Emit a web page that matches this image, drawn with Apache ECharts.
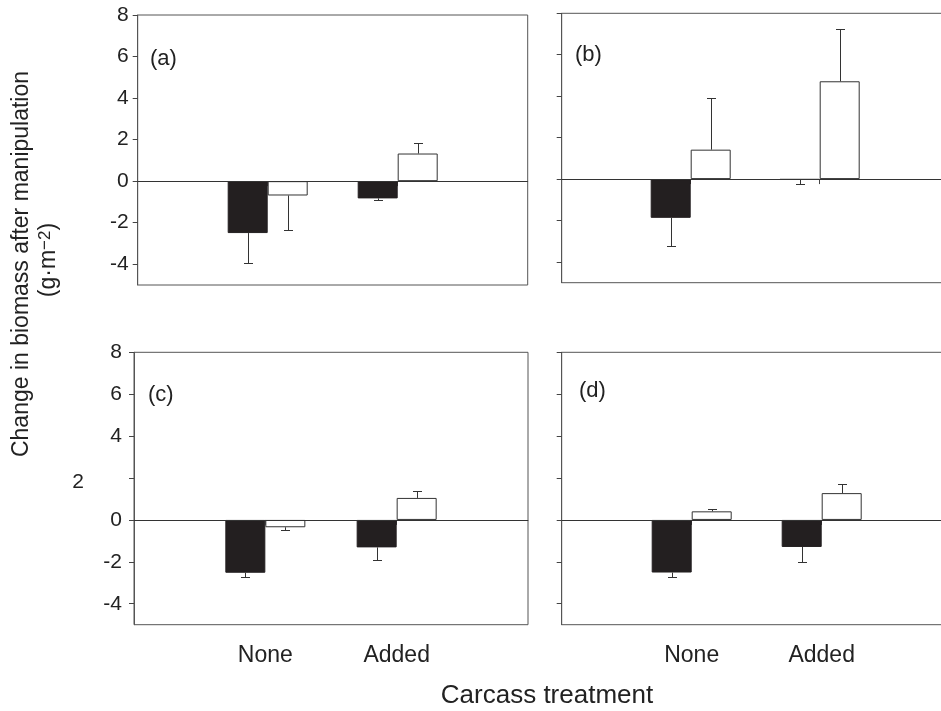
<!DOCTYPE html>
<html>
<head>
<meta charset="utf-8">
<script src="https://cdn.jsdelivr.net/npm/echarts@6/dist/echarts.min.js"></script>
<style>html,body{margin:0;padding:0;background:#fff;}#chart{width:941px;height:711px;}</style>
</head>
<body>
<div id="chart"></div>
<script>
// ---- data ----
var categories = ['', 'None', 'Added', ''];
var yTickValues = [-4, -2, 0, 2, 4, 6, 8];
var panelLabels = ['(a)', '(b)', '(c)', '(d)'];

var aBlack = [-2.50, -0.83]; var aBlackErr = [-3.92, -0.90];
var aWhite = [-0.69, 1.33];  var aWhiteErr = [-2.37, 1.84];
var bBlack = [-1.87, -0.03]; var bBlackErr = [-3.25, -0.22];
var bWhite = [1.42, 4.72];   var bWhiteErr = [3.89, 7.22];
var cBlack = [-2.52, -1.31]; var cBlackErr = [-2.70, -1.90];
var cWhite = [-0.35, 1.05];  var cWhiteErr = [-0.46, 1.40];
var dBlack = [-2.51, -1.29]; var dBlackErr = [-2.73, -2.01];
var dWhite = [0.41, 1.28];   var dWhiteErr = [0.54, 1.71];

var panels = [
  {black: aBlack, blackErr: aBlackErr, white: aWhite, whiteErr: aWhiteErr},
  {black: bBlack, blackErr: bBlackErr, white: bWhite, whiteErr: bWhiteErr},
  {black: cBlack, blackErr: cBlackErr, white: cWhite, whiteErr: cWhiteErr},
  {black: dBlack, blackErr: dBlackErr, white: dWhite, whiteErr: dWhiteErr}
];

// ---- layout ----
var FONT = '"Liberation Sans", Arial, sans-serif';
var grids = [
  {left: 137.7, top: 15, width: 390, height: 270},
  {left: 561.7, top: 13.3, width: 387, height: 269.4},
  {left: 134, top: 352.3, width: 394, height: 272.4},
  {left: 561.7, top: 352.3, width: 390, height: 272.4}
];
var labelPos = [[150, 48], [575, 44], [148, 384], [579, 380]];
var BAR_W = 40;
var AXIS_COLOR = '#444';
var FRAME_COLOR = '#555';

var option = {
  animation: false,
  backgroundColor: '#fff',
  grid: [], xAxis: [], yAxis: [], series: [], graphic: []
};

function padData(arr) { return ['-', arr[0], arr[1], '-']; }
function errData(vals, errs) { return [[1, vals[0], errs[0]], [2, vals[1], errs[1]]]; }
function errRenderer(offset) {
  return function (params, api) {
    var x = api.value(0), v = api.value(1), e = api.value(2);
    var p0 = api.coord([x, v]);
    var p1 = api.coord([x, e]);
    var cx = Math.round(p0[0] + offset) + 0.5;
    var ey = Math.round(p1[1]) + 0.5;
    return {
      type: 'group',
      children: [
        {type: 'line', shape: {x1: cx, y1: p0[1], x2: cx, y2: ey}, style: {stroke: '#333', lineWidth: 1}},
        {type: 'line', shape: {x1: cx - 4.5, y1: ey, x2: cx + 4.5, y2: ey}, style: {stroke: '#333', lineWidth: 1}}
      ]
    };
  };
}

panels.forEach(function (p, i) {
  var g = grids[i];
  option.grid.push({
    left: g.left, top: g.top, width: g.width, height: g.height,
    show: true, borderColor: FRAME_COLOR, borderWidth: 1, backgroundColor: 'transparent',
    containLabel: false, outerBoundsMode: 'none'
  });
  var bottomRow = (i >= 2);
  option.xAxis.push({
    type: 'category', gridIndex: i, data: categories, boundaryGap: false,
    axisLine: {show: true, lineStyle: {color: FRAME_COLOR, width: 1}},
    axisTick: {show: true, length: 5, interval: function (idx) { return idx === 1 || idx === 2; },
               lineStyle: {color: AXIS_COLOR}},
    axisLabel: {show: bottomRow, interval: 0, margin: 19, fontSize: 23, color: '#222', fontFamily: FONT},
    splitLine: {show: false}
  });
  var showY = (i === 0 || i === 2);
  option.yAxis.push({
    type: 'value', gridIndex: i, min: -5, max: 8,
    axisLine: {show: true, lineStyle: {color: FRAME_COLOR, width: 1}},
    axisTick: {show: true, length: 5, customValues: yTickValues, lineStyle: {color: AXIS_COLOR}},
    axisLabel: {
      show: showY, customValues: yTickValues, margin: (i === 2 ? 12 : 9),
      fontSize: 21, color: '#222', fontFamily: FONT,
      formatter: function (v) { return (i === 2 && v === 2) ? '{shift|2}' : String(v); },
      rich: {shift: {fontSize: 21, fontFamily: FONT, color: '#222', padding: [9, 38, 0, 0]}}
    },
    splitLine: {show: false}
  });
  option.series.push({
    type: 'bar', xAxisIndex: i, yAxisIndex: i, data: padData(p.black),
    barWidth: BAR_W, barGap: '0%',
    itemStyle: {color: '#231f20', borderColor: '#231f20', borderWidth: 1},
    markLine: {
      silent: true, symbol: 'none', label: {show: false},
      lineStyle: {color: '#333', width: 1, type: 'solid'},
      data: [{yAxis: 0}]
    },
    z: 2
  });
  option.series.push({
    type: 'bar', xAxisIndex: i, yAxisIndex: i, data: padData(p.white),
    barWidth: BAR_W, barGap: '0%',
    itemStyle: {color: '#ffffff', borderColor: '#333', borderWidth: 1},
    z: 2
  });
  option.series.push({
    type: 'custom', xAxisIndex: i, yAxisIndex: i, data: errData(p.black, p.blackErr),
    renderItem: errRenderer(-BAR_W / 2), z: 3, silent: true
  });
  option.series.push({
    type: 'custom', xAxisIndex: i, yAxisIndex: i, data: errData(p.white, p.whiteErr),
    renderItem: errRenderer(BAR_W / 2), z: 3, silent: true
  });
  option.graphic.push({
    type: 'text', left: labelPos[i][0], top: labelPos[i][1],
    style: {text: panelLabels[i], font: '22px ' + FONT, fill: '#222'}
  });
});

// axis titles
option.graphic.push({
  type: 'text', x: 22, y: 264, rotation: Math.PI / 2,
  style: {text: 'Change in biomass after manipulation', font: '23px ' + FONT, fill: '#222',
          align: 'center', verticalAlign: 'middle'}
});
option.graphic.push({
  type: 'text', x: 49, y: 260, rotation: Math.PI / 2,
  style: {text: '(g·m{sup|−2})', font: '23px ' + FONT, fill: '#222',
          align: 'center', verticalAlign: 'middle',
          rich: {sup: {fontSize: 17, fontFamily: FONT, fill: '#222', verticalAlign: 'top', padding: [0, 0, 8, 0]}}}
});
option.graphic.push({
  type: 'text', x: 547, y: 696,
  style: {text: 'Carcass treatment', font: '26px ' + FONT, fill: '#222',
          align: 'center', verticalAlign: 'middle'}
});

var chart = echarts.init(document.getElementById('chart'), null, {renderer: 'canvas'});
chart.setOption(option);
</script>
</body>
</html>
